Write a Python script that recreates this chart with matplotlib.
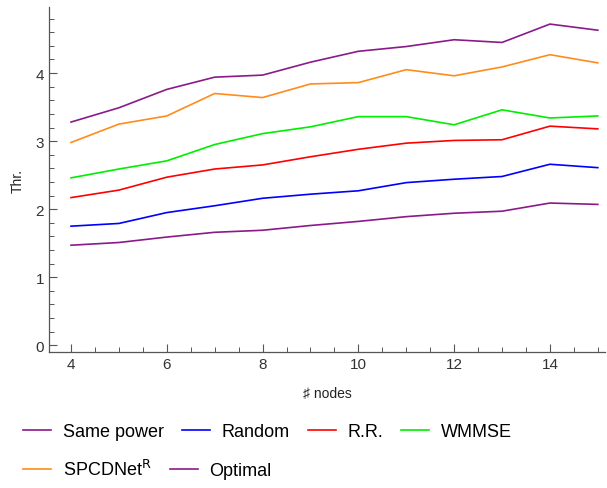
import matplotlib.pyplot as plt
from matplotlib.ticker import MultipleLocator

plt.rcParams["font.family"] = ["Liberation Sans", "DejaVu Sans"]

nodes = [4, 5, 6, 7, 8, 9, 10, 11, 12, 13, 14, 15]
same_power = [1.47, 1.51, 1.59, 1.66, 1.69, 1.76, 1.82, 1.89, 1.94, 1.97, 2.09, 2.07]
random_alloc = [1.75, 1.79, 1.95, 2.05, 2.16, 2.22, 2.27, 2.39, 2.44, 2.48, 2.66, 2.61]
round_robin = [2.17, 2.28, 2.47, 2.59, 2.65, 2.77, 2.88, 2.97, 3.01, 3.02, 3.22, 3.18]
wmmse = [2.46, 2.59, 2.71, 2.95, 3.11, 3.21, 3.36, 3.36, 3.24, 3.46, 3.34, 3.37]
spcdnet = [2.98, 3.25, 3.37, 3.70, 3.64, 3.84, 3.86, 4.05, 3.96, 4.09, 4.27, 4.15]
optimal = [3.28, 3.49, 3.76, 3.94, 3.97, 4.16, 4.32, 4.39, 4.49, 4.45, 4.72, 4.63]

purple = "#8a1a8a"
series = [
    ("Same power", same_power, purple),
    ("Random", random_alloc, "#0000ff"),
    ("R.R.", round_robin, "#ff0000"),
    ("WMMSE", wmmse, "#00ee00"),
    (r"SPCDNet$^{\mathrm{R}}$", spcdnet, "#ff8c1a"),
    ("Optimal", optimal, purple),
]

fig = plt.figure(figsize=(6.07, 4.89), dpi=100)
ax = fig.add_axes([0.0807, 0.278, 0.916, 0.7055])

handles = []
for label, ys, color in series:
    (h,) = ax.plot(nodes, ys, color=color, lw=1.2, label=label)
    handles.append(h)

ax.set_xlim(3.54, 15.15)
ax.set_ylim(-0.1, 4.97)
ax.xaxis.set_major_locator(MultipleLocator(2))
ax.xaxis.set_minor_locator(MultipleLocator(0.5))
ax.yaxis.set_major_locator(MultipleLocator(1))
ax.yaxis.set_minor_locator(MultipleLocator(0.2))

axis_gray = "#555555"
for side in ("top", "right"):
    ax.spines[side].set_visible(False)
for side in ("left", "bottom"):
    ax.spines[side].set_color(axis_gray)
    ax.spines[side].set_linewidth(0.9)
ax.tick_params(which="both", direction="in", colors=axis_gray, labelcolor="#333333",
               labelsize=11)
ax.tick_params(which="major", length=6, width=0.8)
ax.tick_params(which="minor", length=3.5, width=0.7)

ax.set_xlabel("\u266f nodes", fontsize=10, color="#222222", labelpad=11)
ax.set_ylabel("Thr.", fontsize=10, color="#222222", labelpad=8)

leg_kw = dict(frameon=False, fontsize=13, handlelength=1.55, handletextpad=0.65,
              columnspacing=1.0, borderaxespad=0, borderpad=0)
fig.legend(handles=handles[:4], ncol=4, loc="center left",
           bbox_to_anchor=(0.038, 0.115), **leg_kw)
fig.legend(handles=handles[4:], ncol=2, loc="center left",
           bbox_to_anchor=(0.038, 0.038), **leg_kw)

fig.savefig("out.png", dpi=100)
